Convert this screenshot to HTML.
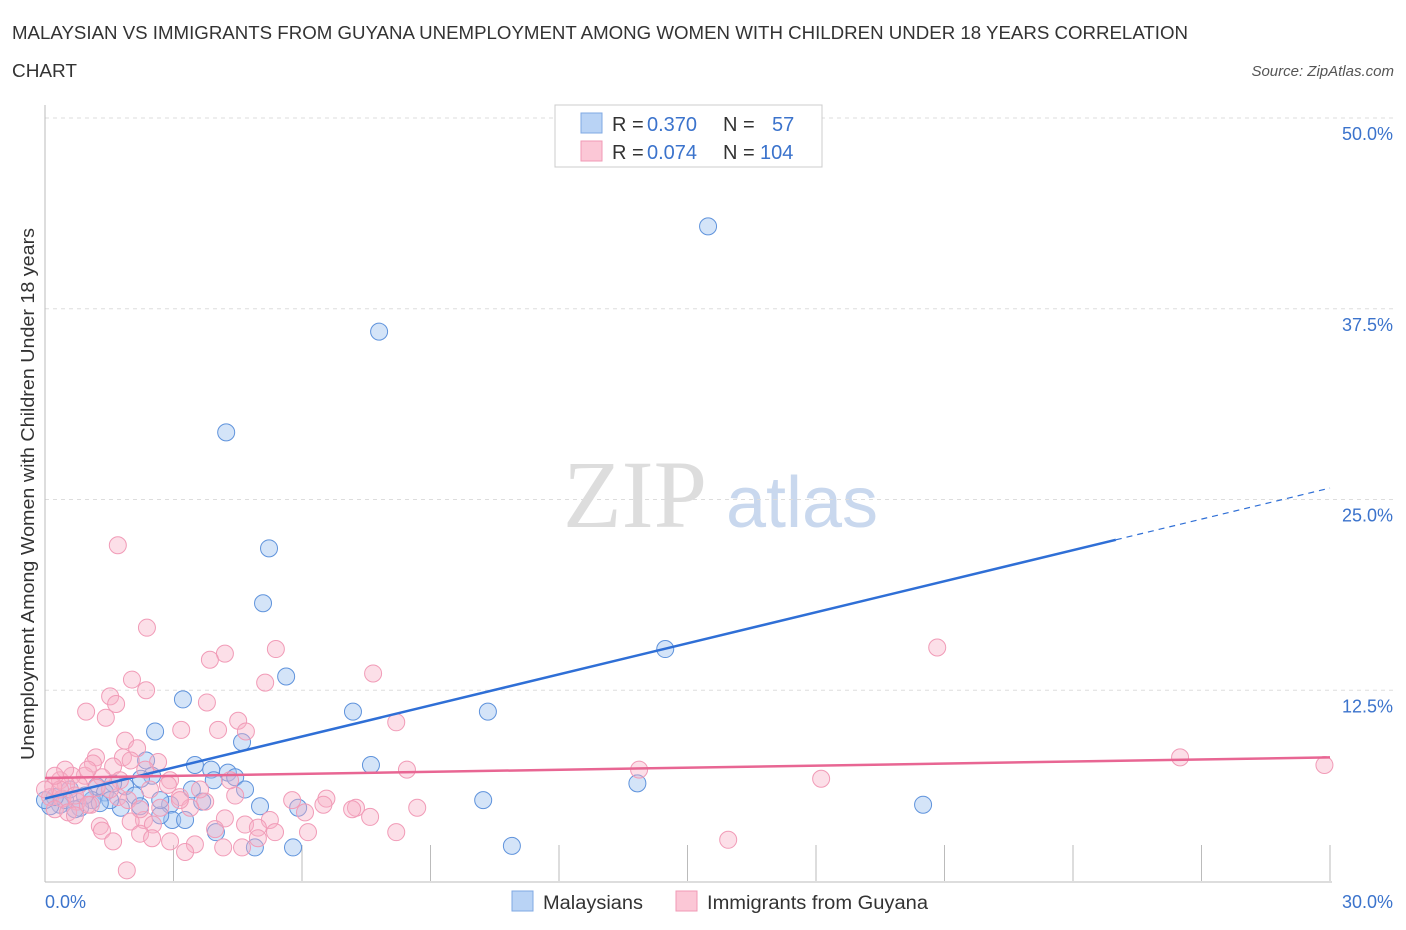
<!DOCTYPE html>
<html><head><meta charset="utf-8"><style>
body{margin:0;background:#fff;font-family:"Liberation Sans",sans-serif;}
svg{display:block}
</style></head><body>
<svg id="chart" width="1406" height="930" xmlns="http://www.w3.org/2000/svg">
<text x="12" y="39" font-size="18" fill="#333" textLength="1176" lengthAdjust="spacingAndGlyphs">MALAYSIAN VS IMMIGRANTS FROM GUYANA UNEMPLOYMENT AMONG WOMEN WITH CHILDREN UNDER 18 YEARS CORRELATION</text>
<text x="12" y="77" font-size="18" fill="#333" textLength="65" lengthAdjust="spacingAndGlyphs">CHART</text>
<text x="1394" y="76" font-size="15" fill="#555" font-style="italic" text-anchor="end">Source: ZipAtlas.com</text>
<text x="34" y="494" font-size="18" fill="#333" text-anchor="middle" textLength="532" lengthAdjust="spacingAndGlyphs" transform="rotate(-90 34 494)">Unemployment Among Women with Children Under 18 years</text>
<g>
<text x="635" y="527" font-size="96" fill="#ddd" font-family="Liberation Serif,serif" text-anchor="middle">ZIP</text>
<text x="802" y="527" font-size="72" fill="#c9d8ee" text-anchor="middle">atlas</text>
</g>
<g id="grid"></g>
<g id="axes"></g>
<g id="marks"></g>
<g>
<rect x="555" y="105" width="267" height="62" fill="#fff" stroke="#ccc"/>
<rect x="581" y="113" width="21" height="20" fill="#b9d3f5" stroke="#7fa8e3"/>
<rect x="581" y="141" width="21" height="20" fill="#fbc7d6" stroke="#f09ab5"/>
<text y="131" font-size="20"><tspan x="612" fill="#333">R = </tspan><tspan x="647" fill="#3b73cc">0.370</tspan><tspan x="723" fill="#333">N = </tspan><tspan x="772" fill="#3b73cc">57</tspan></text>
<text y="159" font-size="20"><tspan x="612" fill="#333">R = </tspan><tspan x="647" fill="#3b73cc">0.074</tspan><tspan x="723" fill="#333">N = </tspan><tspan x="760" fill="#3b73cc">104</tspan></text>
</g>
<g>
<rect x="512" y="891" width="21" height="20" fill="#b9d3f5" stroke="#7fa8e3"/>
<text x="543" y="909" font-size="19" fill="#333" textLength="100" lengthAdjust="spacingAndGlyphs">Malaysians</text>
<rect x="676" y="891" width="21" height="20" fill="#fbc7d6" stroke="#f09ab5"/>
<text x="707" y="909" font-size="19" fill="#333" textLength="221" lengthAdjust="spacingAndGlyphs">Immigrants from Guyana</text>
</g>
</svg>
<script>
const yTicks=[12.5,25,37.5,50];
const yTickLabels=["12.5%","25.0%","37.5%","50.0%"];
const xTickLabels=["0.0%","30.0%"];
const blueX=[15.48,7.8,4.23,5.23,5.09,14.48,5.63,3.22,7.19,10.34,2.57,4.6,2.36,7.61,3.5,4.27,3.88,4.44,3.94,2.5,2.24,13.83,4.67,3.43,1.87,1.59,1.21,2.1,1.4,10.23,3.67,2.92,1.1,5.02,20.5,5.91,1.77,0.82,0.35,0.12,0.47,0.23,2.97,3.27,2.69,3.99,4.9,5.79,10.9,0.58,0.93,0,1.52,2.69,1.28,0.7,2.22];
const blueY=[42.9,36.0,29.4,21.8,18.2,15.2,13.4,11.9,11.1,11.1,9.8,9.1,7.9,7.6,7.6,7.1,7.3,6.8,6.6,6.9,6.7,6.4,6.0,6.0,6.2,6.4,6.2,5.6,5.8,5.3,5.2,5.0,5.3,4.9,5.0,4.8,4.8,4.8,5.0,4.9,5.3,5.5,4.0,4.0,4.3,3.2,2.2,2.2,2.3,6.0,5.6,5.3,5.3,5.3,5.1,4.7,4.9];
const pinkX=[1.7,2.38,4.2,5.39,3.85,20.83,7.66,5.14,2.03,2.36,1.52,3.78,1.66,0.96,1.42,4.51,8.2,3.18,4.04,4.69,1.87,2.15,1.19,1.82,2.64,26.5,29.87,1.12,1.59,8.45,13.87,0.93,0.63,1.33,0.35,1.75,2.92,18.12,0.79,0.49,0.19,2.87,0.12,0.4,0.75,1.07,0.23,0.54,3.15,3.74,4.44,1.7,1.94,5.77,6.57,6.5,7.26,7.17,8.69,3.39,2.69,0.7,4.2,7.59,6.07,2.31,2.0,5.25,4.67,1.28,2.52,3.97,4.97,1.33,2.22,5.37,6.14,8.2,4.97,2.5,2.92,1.59,15.95,3.5,4.16,4.6,3.27,1.91,1.0,1.21,2.0,0.35,2.45,3.62,0.47,1.52,0,2.34,0.7,0.23,1.0,3.15,4.32,2.22];
const pinkY=[22.0,16.6,14.9,15.2,14.5,15.3,13.6,13.0,13.2,12.5,12.1,11.7,11.6,11.1,10.7,10.5,10.4,9.9,9.9,9.8,9.2,8.7,8.1,8.1,7.8,8.1,7.6,7.7,7.5,7.3,7.3,6.9,6.9,6.8,6.6,6.6,6.6,6.7,6.3,6.3,6.2,6.3,5.5,5.4,5.2,5.0,4.7,4.5,5.5,5.2,5.6,5.5,5.3,5.3,5.4,5.0,4.8,4.7,4.8,4.8,4.8,4.3,4.1,4.2,4.5,4.0,3.9,4.0,3.7,3.6,3.7,3.4,3.5,3.3,3.1,3.2,3.2,3.2,2.8,2.8,2.6,2.6,2.7,2.4,2.2,2.2,1.9,0.7,7.3,6.1,7.9,6.0,6.0,6.0,7.3,6.0,6.0,7.3,5.6,6.9,5.0,5.3,6.6,4.7];
const blueTrend=[5.4,25.75];
const pinkTrend=[6.75,8.1];
const X0=45,X1=1330,Y0=881,Y1=118;
const sx=v=>X0+(v/30)*(X1-X0);
const sy=v=>Y0-(v/50)*(Y0-Y1);
const NS="http://www.w3.org/2000/svg";
function mk(tag,attrs,parent){const e=document.createElementNS(NS,tag);for(const k in attrs)e.setAttribute(k,attrs[k]);parent.appendChild(e);return e;}
const grid=document.getElementById('grid'),axes=document.getElementById('axes'),marks=document.getElementById('marks');
yTicks.forEach((t,i)=>{
  const l=mk('line',{x1:X0,x2:1394,y1:sy(t),y2:sy(t),stroke:'#ddd','stroke-dasharray':'4 4'},grid);
  
  
  const tx=mk('text',{x:1393,y:sy(t)+22,'font-size':18,fill:'#3b73cc','text-anchor':'end'},axes);
  tx.textContent=yTickLabels[i];
  
  
});
const ya=mk('line',{x1:X0,x2:X0,y1:105,y2:Y0+1,stroke:'#bbb'},axes);


const xa=mk('line',{x1:X0,x2:X1+2,y1:Y0+1,y2:Y0+1,stroke:'#bbb'},axes);


for(let i=1;i<=10;i++){
  const tk=mk('line',{x1:sx(i*3),x2:sx(i*3),y1:845,y2:Y0,stroke:'#bbb'},axes);
  
  
}
const xl0=mk('text',{x:45,y:908,'font-size':18,fill:'#3b73cc'},axes);
xl0.textContent=xTickLabels[0];


const xl1=mk('text',{x:1393,y:908,'font-size':18,fill:'#3b73cc','text-anchor':'end'},axes);
xl1.textContent=xTickLabels[1];


blueX.forEach((x,i)=>{
  const c=mk('circle',{cx:sx(x),cy:sy(blueY[i]),r:8.5,fill:'rgba(160,196,240,0.45)',stroke:'#5f93dc','stroke-width':1},marks);
  
  
});
pinkX.forEach((x,i)=>{
  const c=mk('circle',{cx:sx(x),cy:sy(pinkY[i]),r:8.5,fill:'rgba(248,175,198,0.4)',stroke:'#f19bb7','stroke-width':1},marks);
  
  
});
const bAt=x=>blueTrend[0]+(blueTrend[1]-blueTrend[0])*x/30;
const bl=mk('line',{x1:sx(0),y1:sy(bAt(0)),x2:sx(25),y2:sy(bAt(25)),stroke:'#2f6fd6','stroke-width':2.5},marks);


const bd=mk('line',{x1:sx(25),y1:sy(bAt(25)),x2:sx(30),y2:sy(bAt(30)),stroke:'#2f6fd6','stroke-width':1.2,'stroke-dasharray':'6 5'},marks);


const pl=mk('line',{x1:sx(0),y1:sy(pinkTrend[0]),x2:sx(30),y2:sy(pinkTrend[1]),stroke:'#e86693','stroke-width':2.5},marks);


</script>
</body></html>
